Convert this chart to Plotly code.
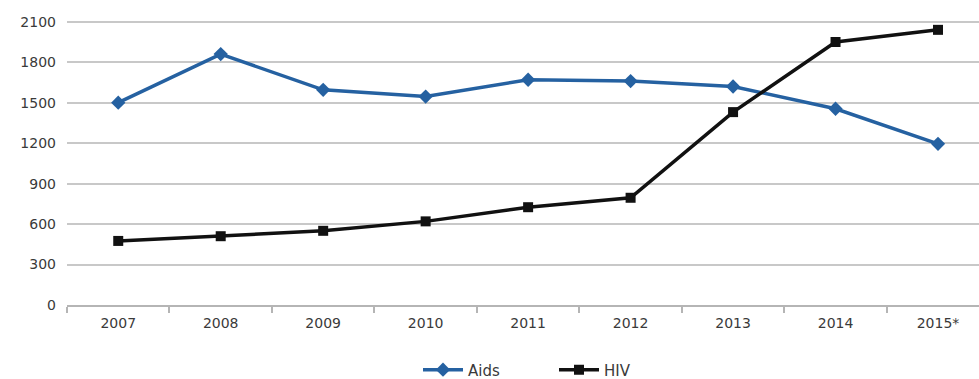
import plotly.graph_objects as go

years = ["2007", "2008", "2009", "2010", "2011", "2012", "2013", "2014", "2015*"]
aids = [1500, 1860, 1595, 1545, 1670, 1660, 1620, 1455, 1195]
hiv = [475, 510, 550, 620, 725, 795, 1430, 1950, 2040]
y_ticks = [0, 300, 600, 900, 1200, 1500, 1800, 2100]

fig = go.Figure()
fig.add_trace(go.Scatter(
    x=years, y=aids, name="Aids", mode="lines+markers",
    line=dict(color="#2561a1", width=3.5),
    marker=dict(symbol="diamond", size=11, color="#2561a1"),
))
fig.add_trace(go.Scatter(
    x=years, y=hiv, name="HIV", mode="lines+markers",
    line=dict(color="#111111", width=3.5),
    marker=dict(symbol="square", size=10, color="#111111"),
))

fig.update_layout(
    width=979, height=379,
    margin=dict(l=67, r=0, t=15, b=74, autoexpand=False),
    paper_bgcolor="white", plot_bgcolor="white",
    font=dict(family="DejaVu Sans", size=14, color="#3a3a3a"),
    showlegend=True,
    legend=dict(orientation="h", x=(418 - 67) / 912, xanchor="left",
                yref="container", y=0.024, yanchor="middle",
                font=dict(size=15, color="#3a3a3a"), itemwidth=40, tracegroupgap=0,
                entrywidth=81, entrywidthmode="pixels"),
    xaxis=dict(
        type="category", range=[-0.5, 8.4], tickson="boundaries",
        ticks="outside", ticklen=6, tickwidth=1.5, tickcolor="#b5b5b5",
        showline=True, linecolor="#b5b5b5", linewidth=2,
        showgrid=False, zeroline=False, ticklabelstandoff=4,
    ),
    yaxis=dict(
        range=[0, 2150], tickvals=y_ticks, ticktext=[str(v) for v in y_ticks],
        showgrid=True, gridcolor="#c8c8c8", gridwidth=2,
        zeroline=False, showline=False, ticks="", ticklabelstandoff=10,
    ),
)

fig.write_html("out.html")
